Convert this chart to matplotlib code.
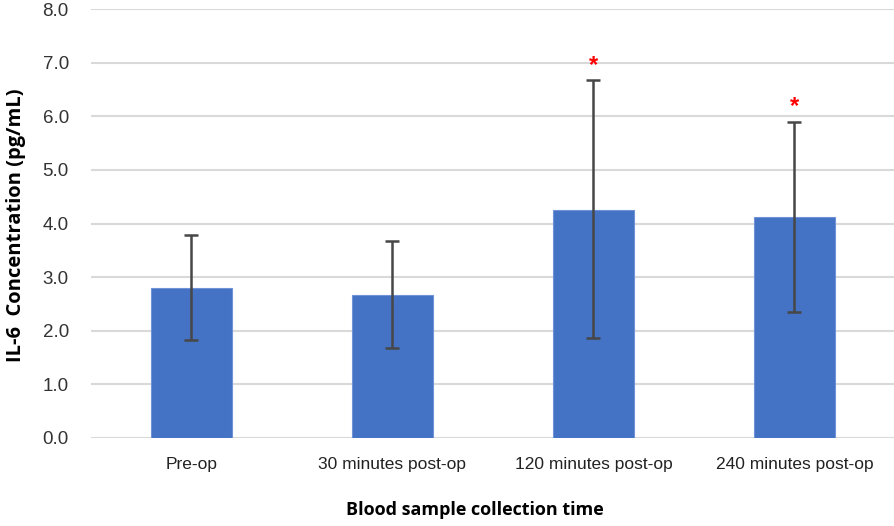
import numpy as np
import matplotlib.pyplot as plt

plt.rcParams['font.family'] = ['Liberation Sans', 'DejaVu Sans']

categories = ["Pre-op", "30 minutes post-op", "120 minutes post-op", "240 minutes post-op"]
means = [2.80, 2.66, 4.26, 4.12]
err_low = [1.82, 1.67, 1.87, 2.35]
err_high = [3.79, 3.68, 6.68, 5.90]
significant = [False, False, True, True]

yerr = np.array([np.array(means) - np.array(err_low),
                 np.array(err_high) - np.array(means)])

fig = plt.figure(figsize=(8.95, 5.26), dpi=100)
ax = fig.add_axes([91/895, 1 - 438/526, 804/895, 429/526])

x = np.arange(len(categories))
ax.bar(x, means, width=0.4, color="#4472C4", edgecolor="#6f93d6", linewidth=0.8, zorder=2)
ax.errorbar(x, means, yerr=yerr, fmt="none", ecolor="#474747", elinewidth=1.8,
            capsize=5, capthick=1.8, zorder=3)

# asterisks above significant bars
for i, s in enumerate(significant):
    if s:
        ax.text(x[i], err_high[i] + 0.06, "*", color="red", ha="center", va="bottom",
                fontsize=17, fontweight="bold")

ax.set_xlim(-0.5, len(categories) - 0.5)
ax.set_ylim(0, 8)
ax.set_yticks(np.arange(0, 8.01, 1.0))
ax.set_yticklabels([f"{v:.1f}" for v in np.arange(0, 8.01, 1.0)], fontsize=13.5, color="#333333")
ax.set_xticks(x)
ax.set_xticklabels(categories, fontsize=12.5, color="#222222")
ax.tick_params(length=0, pad=16, axis="y")
ax.tick_params(length=0, pad=14, axis="x")
ax.yaxis.grid(True, color="#d9d9d9", linewidth=1.5, zorder=0)
ax.set_axisbelow(True)
for sp in ax.spines.values():
    sp.set_visible(False)

fig.text(16/895, 1 - 225/526, "IL-6  Concentration (pg/mL)", rotation=90, ha="center",
         va="center", fontsize=14.5, fontweight="bold", family=["Open Sans", "DejaVu Sans"])
fig.text(475/895, 1 - 510/526, "Blood sample collection time", ha="center", va="center",
         fontsize=13, fontweight="bold", family=["Open Sans", "DejaVu Sans"])

fig.savefig("out.png", dpi=100)
